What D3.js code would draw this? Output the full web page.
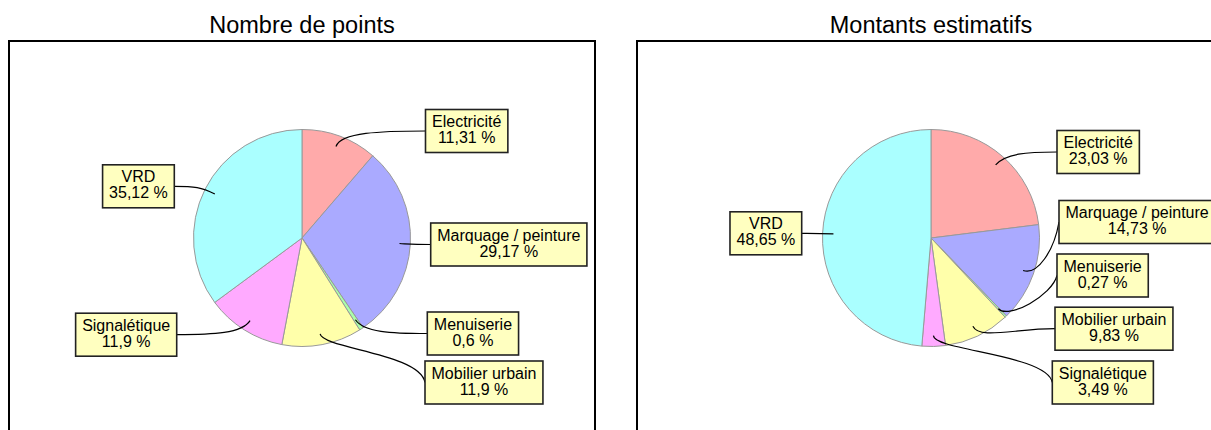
<!DOCTYPE html>
<html>
<head>
<meta charset="utf-8">
<script src="https://cdn.jsdelivr.net/npm/d3@7"></script>
<style>
  html, body { margin: 0; padding: 0; background: #fff; }
  svg { display: block; }
  text { font-family: "Liberation Sans", Arial, sans-serif; fill: #000; }
</style>
</head>
<body>
<svg id="chart" width="1211" height="430"></svg>
<script>
// ---- data ----
const categories = ["Electricité", "Marquage / peinture", "Menuiserie", "Mobilier urbain", "Signalétique", "VRD"];
const pointsValues = [11.31, 29.17, 0.6, 11.9, 11.9, 35.12];
const montantsValues = [23.03, 14.73, 0.27, 9.83, 3.49, 48.65];
const chartTitles = ["Nombre de points", "Montants estimatifs"];
const sliceColors = ["#FFAAAA", "#AAAAFF", "#AAFFAA", "#FFFFAA", "#FFAAFF", "#AAFFFF"];

// ---- layout (label box placement relative to pie centre: [edge x offset, centre y offset]) ----
const labelLayoutPoints = [[123.5, -107], [128.7, 6.5], [125.3, 95.5], [123, 144.5], [-125.3, 96.7], [-127.7, -51.7]];
const labelLayoutMontants = [[126, -86], [128, -16], [126, 37.5], [124, 90.7], [121.3, 144.5], [-129.3, -4.7]];

const svg = d3.select("#chart");
const R = 108.5;
const fontSize = 16;

function fmt(v) { return String(v).replace(".", ",") + " %"; }

function drawChart(cfg) {
  const g = svg.append("g");
  // frame
  g.append("rect")
    .attr("x", cfg.frameX).attr("y", 41)
    .attr("width", 586).attr("height", 420)
    .attr("fill", "none").attr("stroke", "#000").attr("stroke-width", 2);
  // title
  g.append("text")
    .attr("x", cfg.cx).attr("y", 33)
    .attr("text-anchor", "middle")
    .style("font-size", "23.5px")
    .text(cfg.title);

  const pie = d3.pie().sort(null).value(d => d.value);
  const arcs = pie(categories.map((c, i) => ({ name: c, value: cfg.values[i], color: sliceColors[i], lay: cfg.layout[i] })));
  const arc = d3.arc().innerRadius(0).outerRadius(R);
  const anchorArc = d3.arc().innerRadius(R * 0.9).outerRadius(R * 0.9);

  const pg = g.append("g").attr("transform", `translate(${cfg.cx},${cfg.cy})`);
  pg.selectAll("path.slice").data(arcs).join("path")
    .attr("class", "slice")
    .attr("d", arc)
    .attr("fill", d => d.data.color)
    .attr("stroke", "#999")
    .attr("stroke-width", 1);

  // labels
  arcs.forEach(d => {
    const [ax, ay] = anchorArc.centroid(d);
    const mid = (d.startAngle + d.endAngle) / 2;
    const rx = Math.sin(mid), ry = -Math.cos(mid);
    const side = d.data.lay[0] >= 0 ? 1 : -1;
    const ex = d.data.lay[0], ey = d.data.lay[1];

    // leader line
    const dy = ey - ay, dx = ex - ax;
    const c1 = [ax + rx * 15, ay + ry * 15];
    let c2;
    if (Math.abs(dy) > 30) c2 = [ex - side * 5, ey - Math.sign(dy) * Math.abs(dy) * 0.6];
    else c2 = [ex - dx * 0.5, ey];
    const path = d3.path();
    path.moveTo(ax, ay);
    path.bezierCurveTo(c1[0], c1[1], c2[0], c2[1], ex, ey);
    pg.append("path").attr("d", path.toString())
      .attr("fill", "none").attr("stroke", "#000").attr("stroke-width", 1.2);

    // box
    const lg = pg.append("g");
    const t1 = lg.append("text").attr("text-anchor", "middle").style("font-size", fontSize + "px").text(d.data.name);
    const t2 = lg.append("text").attr("text-anchor", "middle").style("font-size", fontSize + "px").text(fmt(d.data.value));
    const w = Math.max(t1.node().getComputedTextLength(), t2.node().getComputedTextLength()) + 13;
    const h = 43;
    const bx = side > 0 ? ex : ex - w;
    const by = ey - h / 2;
    lg.insert("rect", "text")
      .attr("x", bx).attr("y", by).attr("width", w).attr("height", h)
      .attr("fill", "#FFFFC0").attr("stroke", "#222").attr("stroke-width", 1.6);
    t1.attr("x", bx + w / 2).attr("y", by + 17.5);
    t2.attr("x", bx + w / 2).attr("y", by + 33.5);
  });
}

drawChart({ title: chartTitles[0], values: pointsValues, layout: labelLayoutPoints, cx: 302, cy: 238, frameX: 9 });
drawChart({ title: chartTitles[1], values: montantsValues, layout: labelLayoutMontants, cx: 931, cy: 238, frameX: 637 });
</script>
</body>
</html>
